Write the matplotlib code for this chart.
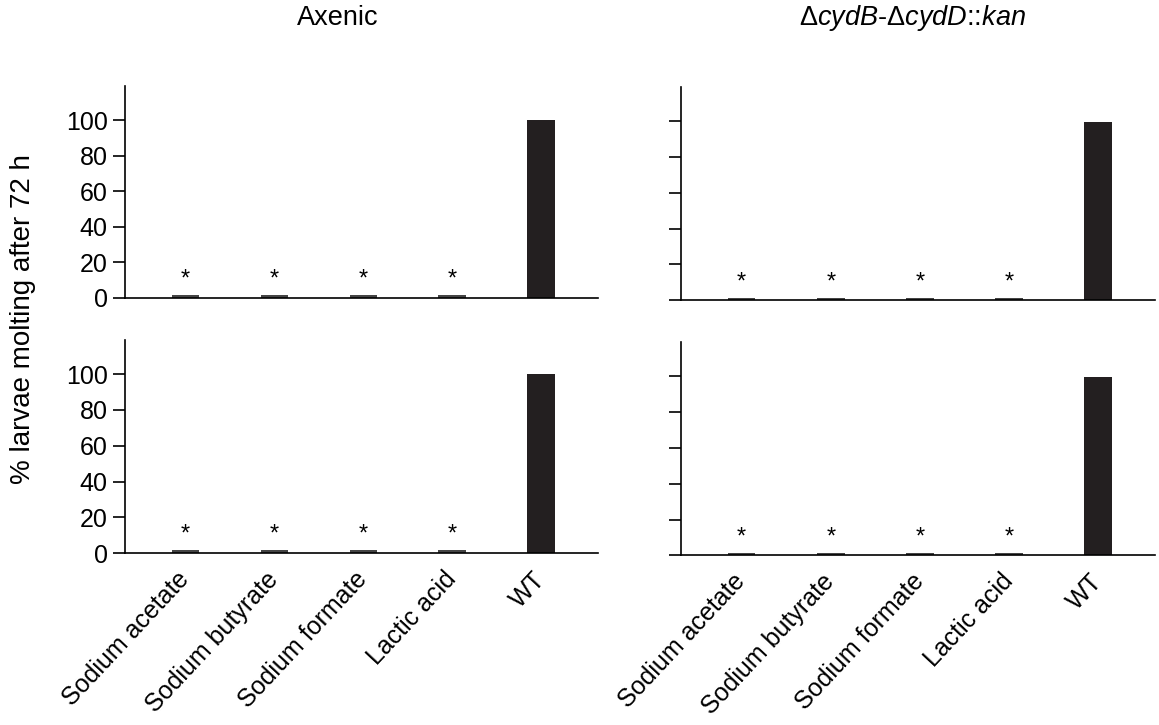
import matplotlib
matplotlib.use('Agg')
import matplotlib.pyplot as plt

plt.rcParams['font.family'] = ['Liberation Sans', 'DejaVu Sans']
plt.rcParams['mathtext.fontset'] = 'custom'
plt.rcParams['mathtext.rm'] = 'Liberation Sans'
plt.rcParams['mathtext.it'] = 'Liberation Sans:italic'

# data
categories = ['Sodium acetate', 'Sodium butyrate', 'Sodium formate', 'Lactic acid', 'WT']
axenic_top = [1.5, 1.5, 1.5, 1.5, 100]
axenic_bottom = [1.5, 1.5, 1.5, 1.5, 100]
mutant_top = [1.2, 1.2, 1.2, 1.2, 99.5]
mutant_bottom = [1.2, 1.2, 1.2, 1.2, 99.5]
stars = [True, True, True, True, False]
yticks = [0, 20, 40, 60, 80, 100]

fig = plt.figure(figsize=(11.59, 7.25), dpi=100)

# axes positions [left, bottom, width, height]
boxes = {
    'tl': [0.108, 0.589, 0.408, 0.292],
    'tr': [0.5876, 0.586, 0.409, 0.294],
    'bl': [0.108, 0.237, 0.408, 0.294],
    'br': [0.5876, 0.234, 0.409, 0.294],
}
panels = [('tl', axenic_top, True, False),
          ('tr', mutant_top, False, False),
          ('bl', axenic_bottom, True, True),
          ('br', mutant_bottom, False, True)]

for key, vals, ylabels, xlabels in panels:
    ax = fig.add_axes(boxes[key])
    x = list(range(len(categories)))
    colors = ['#444444'] * 4 + ['#231f20']
    ax.bar(x, vals, width=0.31, color=colors)
    for xi, v, s in zip(x, vals, stars):
        if s:
            ax.text(xi, v + 2.5, '*', ha='center', va='bottom', fontsize=17)
    ax.set_xlim(-0.68, 4.64)
    ax.set_ylim(0, 119)
    ax.spines['top'].set_visible(False)
    ax.spines['right'].set_visible(False)
    for sp in ['left', 'bottom']:
        ax.spines[sp].set_linewidth(1.2)
    ax.set_yticks(yticks)
    ax.tick_params(axis='y', direction='out', length=8.5, width=1.2, labelsize=18, pad=4)
    if not ylabels:
        ax.set_yticklabels([])
    ax.set_xticks(x)
    ax.tick_params(axis='x', length=0, pad=16)
    if xlabels:
        ax.set_xticklabels(categories, rotation=47, ha='right', va='center',
                           rotation_mode='anchor', fontsize=18)
    else:
        ax.set_xticklabels([])

fig.text(0.2916, 0.975, 'Axenic', ha='center', va='center', fontsize=19.5)
fig.text(0.787, 0.975, r'$\Delta\mathit{cydB}$-$\Delta\mathit{cydD}$::$\mathit{kan}$',
         ha='center', va='center', fontsize=19.5)
fig.text(0.02, 0.56, '% larvae molting after 72 h', rotation=90,
         ha='center', va='center', fontsize=20)

fig.savefig('out.png', dpi=100)
